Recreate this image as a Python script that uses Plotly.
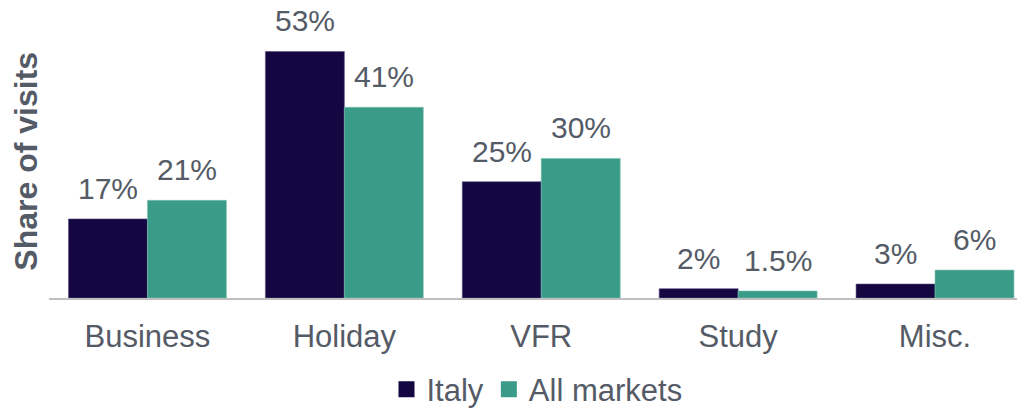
import plotly.graph_objects as go

categories = ["Business", "Holiday", "VFR", "Study", "Misc."]
italy = [17, 53, 25, 2, 3]
all_markets = [21, 41, 30, 1.5, 6]
italy_labels = ["17%", "53%", "25%", "2%", "3%"]
all_labels = ["21%", "41%", "30%", "1.5%", "6%"]

font_color = "#545b66"
fam = "Liberation Sans, Arial"
italy_color = "#130641"
all_color = "#3a9c88"

fig = go.Figure()
fig.add_trace(go.Bar(x=categories, y=italy, name="Italy", marker_color=italy_color,
                     marker_line=dict(color="#5a5080", width=0.6), showlegend=False))
fig.add_trace(go.Bar(x=categories, y=all_markets, name="All markets", marker_color=all_color,
                     marker_line=dict(color="#7cc0b0", width=0.6), showlegend=False))
# legend entries with larger square swatches
fig.add_trace(go.Scatter(x=[None], y=[None], mode="markers", name="Italy",
                         marker=dict(symbol="square", size=17, color=italy_color)))
fig.add_trace(go.Scatter(x=[None], y=[None], mode="markers", name="All markets",
                         marker=dict(symbol="square", size=17, color=all_color)))

annotations = []
for cat, v, lab in zip(categories, italy, italy_labels):
    annotations.append(dict(x=cat, y=v, xref="x", yref="y", text=lab, showarrow=False,
                            xanchor="center", yanchor="bottom", xshift=-39.5, yshift=12,
                            font=dict(size=30, color=font_color, family=fam)))
for cat, v, lab in zip(categories, all_markets, all_labels):
    annotations.append(dict(x=cat, y=v, xref="x", yref="y", text=lab, showarrow=False,
                            xanchor="center", yanchor="bottom", xshift=39.5, yshift=12,
                            font=dict(size=30, color=font_color, family=fam)))
annotations.append(dict(text="<b>Share of visits</b>", textangle=-90, xref="paper", yref="paper",
                        x=-0.023, y=0.507, xanchor="center", yanchor="middle", showarrow=False,
                        font=dict(size=32, color=font_color, family=fam)))

fig.update_layout(
    width=1017, height=409,
    margin=dict(l=40.5, r=0, t=20, b=115),
    barmode="group", bargap=0.198, bargroupgap=0,
    plot_bgcolor="white", paper_bgcolor="white",
    font=dict(family=fam, color=font_color, size=30),
    xaxis=dict(showline=True, linecolor="#bfbfbf", linewidth=2, ticks="outside",
               ticklen=10, tickcolor="rgba(0,0,0,0)", range=[-0.5, 4.457],
               tickfont=dict(size=31, color=font_color)),
    yaxis=dict(range=[0, 58.05], visible=False),
    legend=dict(orientation="h", x=0.5, xanchor="center", y=-0.339, yanchor="middle",
                font=dict(size=31, color=font_color), itemwidth=30, tracegroupgap=0),
    showlegend=True,
    annotations=annotations,
)
fig.write_html("out.html")
